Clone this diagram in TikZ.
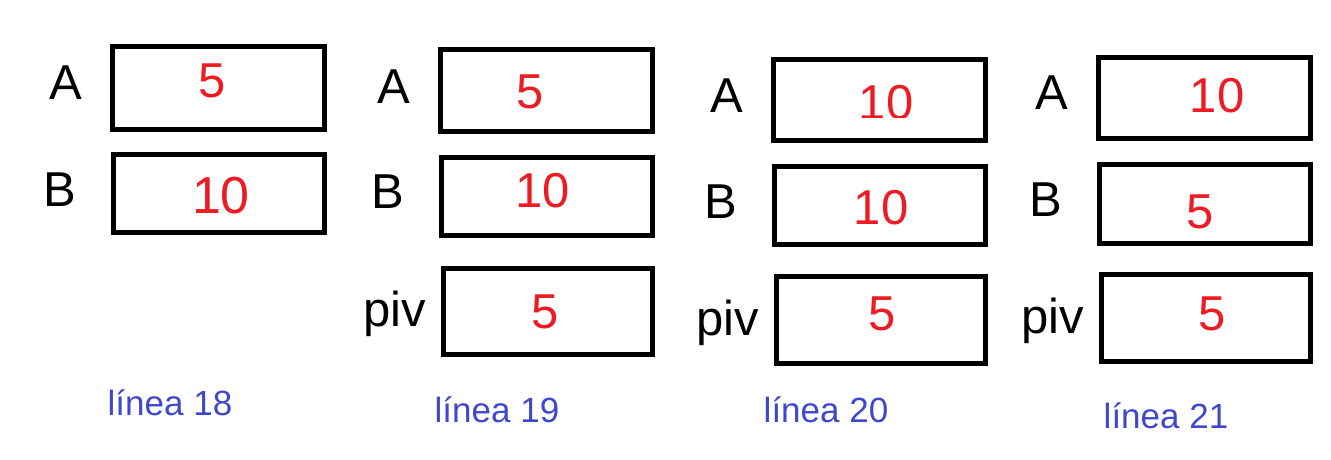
\documentclass[tikz,border=0pt]{standalone}
\usepackage{fontspec}
\setmainfont{Liberation Sans}
\definecolor{valred}{HTML}{ED1C24}
\definecolor{capblue}{HTML}{3F48CC}
\begin{document}
\begin{tikzpicture}[x=1pt,y=-1pt,
  cell/.style={draw=black, line width=5pt, inner sep=0pt, outer sep=0pt},
  lbl/.style={anchor=base, inner sep=0pt, font=\fontsize{49}{49}\selectfont, text=black},
  val/.style={anchor=base, inner sep=0pt, font=\fontsize{49}{49}\selectfont, text=valred},
  captxt/.style={anchor=base, inner sep=0pt, font=\fontsize{35}{35}\selectfont, text=capblue}]
\useasboundingbox[fill=white] (0,0) rectangle (1331,459);
% column 1
\node[cell, minimum width=212pt, minimum height=83pt] (a1) at (218.5,88) {};
\node[cell, minimum width=211pt, minimum height=78pt] (b1) at (219,193.5) {};
\node[lbl] (la1) at (66,99) {A};
\node[lbl] (lb1) at (60,206) {B};
\node[val] (va1) at (212,97) {5};
\node[val, font=\fontsize{52}{52}\selectfont] (vb1) at (221,213) {10};
\node[captxt] (c1) at (170,415) {línea 18};
% column 2
\node[cell, minimum width=212pt, minimum height=82pt] (a2) at (546.5,90.5) {};
\node[cell, minimum width=211pt, minimum height=78pt] (b2) at (547,196.5) {};
\node[cell, minimum width=209pt, minimum height=86pt] (p2) at (548,311.5) {};
\node[lbl] (la2) at (394,103) {A};
\node[lbl] (lb2) at (388,208) {B};
\node[lbl] (lp2) at (395,326) {piv};
\node[val] (va2) at (530,108) {5};
\node[val] (vb2) at (543,207) {10};
\node[val] (vp2) at (545,328) {5};
\node[captxt] (c2) at (497,422) {línea 19};
% column 3
\node[cell, minimum width=212pt, minimum height=81pt] (a3) at (879.5,100) {};
\node[cell, minimum width=211pt, minimum height=78pt] (b3) at (880,205.5) {};
\node[cell, minimum width=209pt, minimum height=87pt] (p3) at (881,320) {};
\node[lbl] (la3) at (727,112) {A};
\node[lbl] (lb3) at (721,218) {B};
\node[lbl] (lp3) at (728,335) {piv};
\begin{scope}
\clip (820,60) rectangle (950,117);
\node[val] (va3) at (886,119) {10};
\end{scope}
\node[val] (vb3) at (881,224) {10};
\node[val] (vp3) at (882,330) {5};
\node[captxt] (c3) at (826,422) {línea 20};
% column 4
\node[cell, minimum width=212pt, minimum height=81pt] (a4) at (1204.5,98) {};
\node[cell, minimum width=211pt, minimum height=79pt] (b4) at (1205,204) {};
\node[cell, minimum width=209pt, minimum height=87pt] (p4) at (1206,318) {};
\node[lbl] (la4) at (1052,109) {A};
\node[lbl] (lb4) at (1046,216) {B};
\node[lbl] (lp4) at (1053,333) {piv};
\node[val] (va4) at (1217,112) {10};
\node[val] (vb4) at (1200,228) {5};
\node[val] (vp4) at (1212,330) {5};
\node[captxt] (c4) at (1166,428) {línea 21};
\end{tikzpicture}
\end{document}
